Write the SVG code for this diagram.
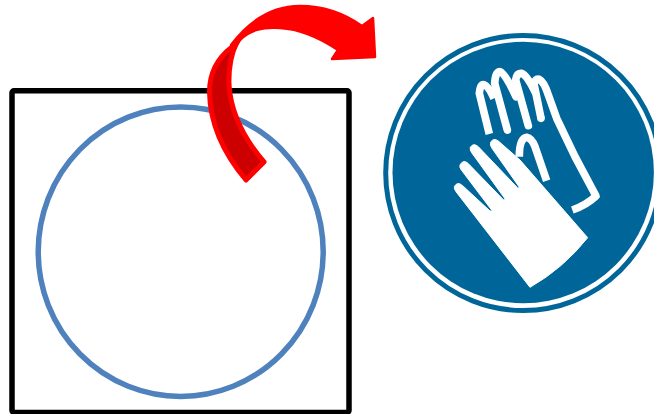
<svg xmlns="http://www.w3.org/2000/svg" width="654" height="414" viewBox="0 0 654 414">
<style>
.glove{fill:none;stroke:#fff;stroke-width:23;stroke-linejoin:round}
.tip{stroke-linecap:round}
</style>
<rect width="654" height="414" fill="#fff"/>
<g id="square"><rect x="12" y="90.800" width="337" height="321.700" rx="2" fill="#fff" stroke="#000" stroke-width="5.500"/></g>
<g id="circle"><ellipse cx="180.700" cy="251.700" rx="142.500" ry="144.700" fill="#fff" stroke="#4f81bd" stroke-width="5.500"/></g>
<g id="sign">
<circle cx="523.200" cy="173" r="137.500" fill="#fff" stroke="#006699" stroke-width="5"/>
<circle cx="523.200" cy="172.500" r="130.700" fill="#006699"/>
<g transform="translate(440 55) scale(.33333)">
<path fill="#fff" stroke="#fff" stroke-width="3" stroke-linejoin="round" d="M270 697Q370 640 443 548L240 315 175 258Q160 247 152 262 149 270 156 280L239 398 233 399 115 275Q100 262 91 277 89 285 95 293L197 434 190 434 84 325Q70 312 60 330 58 338 64 345L157 468 150 468 68 392Q52 378 43 395 42 402 48 410Z"/>
<path class="glove" d="M148 237L118 115Q120 87 132 89 145 93 162 130"/>
<path class="glove tip" d="M202 225L164 85Q166 50 180 50 195 53 228 125"/>
<path class="glove tip" d="M265 212L227 75Q230 53 245 55 260 60 285 110"/>
<path class="glove" d="M303 190L282 87Q285 70 297 73 312 80 325 120L350 190 405 305 468 423Q440 450 397 465"/>
<circle cx="303" cy="190" r="11.500" fill="#fff"/>
<path class="glove" d="M238 305Q238 250 260 247 275 250 285 275L320 377"/>
</g>
</g>
<g id="connectors">
<path fill="#cc0000" stroke="#ff0000" stroke-width="5" stroke-linejoin="round" d="M232 47C215 60 209.500 75 209.500 92 210 125 225 155 246 180L264 162C245 140 231 115 229 85 228.500 70 231 55 236 44Z"/>
<path fill="#ff0000" stroke="#ff0000" stroke-width="2.500" stroke-linejoin="round" d="M231 45C250 20 272 6 300 6 325 6 345 14 362 26L373 18 375 57 332 59 338 50C320 38 300 29 280 28 262 27 250 30 240 40L234 50Z"/>
</g>
</svg>
